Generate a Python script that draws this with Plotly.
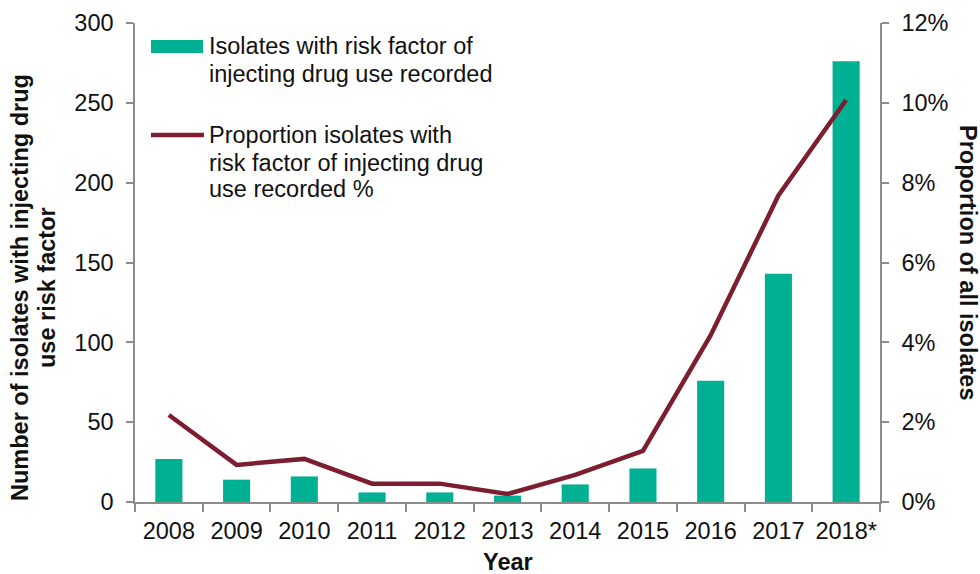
import plotly.graph_objects as go

years = ["2008", "2009", "2010", "2011", "2012", "2013", "2014", "2015", "2016", "2017", "2018*"]
isolates_idu = [27, 14, 16, 6, 6, 4, 11, 21, 76, 143, 276]
proportion_idu = [2.18, 0.93, 1.08, 0.46, 0.46, 0.2, 0.68, 1.28, 4.18, 7.68, 10.07]

left_ticks = [0, 50, 100, 150, 200, 250, 300]
right_ticks = [0, 2, 4, 6, 8, 10, 12]
right_tick_labels = ["0%", "2%", "4%", "6%", "8%", "10%", "12%"]

bar_name = "Isolates with risk factor of injecting drug use recorded"
line_name = "Proportion isolates with risk factor of injecting drug use recorded %"
legend_bar_lines = ["Isolates with risk factor of", "injecting drug use recorded"]
legend_line_lines = ["Proportion isolates with", "risk factor of injecting drug", "use recorded %"]
left_title_lines = ["Number of isolates with injecting drug", "use risk factor"]
right_title = "Proportion of all isolates"
x_title = "Year"

BAR_COLOR = "#00B092"
LINE_COLOR = "#7C1E30"
AXIS_COLOR = "#8C8C8C"
TEXT_COLOR = "#111111"
FONT = "Liberation Sans, Arial, sans-serif"
FS = 23.5

W, H = 980, 574
ML, MR, MT, MB = 135, 100, 23, 72
PW = W - ML - MR
PH = H - MT - MB


def px_x(x):
    return (x - ML) / PW


def px_y(y):
    return (H - MB - y) / PH


fig = go.Figure()
fig.add_trace(go.Bar(x=years, y=isolates_idu, name=bar_name, marker=dict(color=BAR_COLOR, line=dict(width=0)),
                     width=0.4, yaxis="y", showlegend=False))
fig.add_trace(go.Scatter(x=years, y=proportion_idu, name=line_name, mode="lines",
                         line=dict(color=LINE_COLOR, width=4.5), yaxis="y2", showlegend=False))

tickfont = dict(family=FONT, size=FS, color=TEXT_COLOR)
fig.update_layout(
    width=W, height=H,
    margin=dict(l=ML, r=MR, t=MT, b=MB, autoexpand=False),
    paper_bgcolor="white", plot_bgcolor="white",
    font=dict(family=FONT, size=FS, color=TEXT_COLOR),
    xaxis=dict(type="category", showgrid=False, showline=True, linecolor=AXIS_COLOR, linewidth=1.5,
               ticks="outside", tickson="boundaries", ticklen=8, tickcolor=AXIS_COLOR, tickwidth=1.5,
               tickfont=tickfont, ticklabelstandoff=7, tickangle=0, automargin=False, range=[-0.5, 10.5]),
    yaxis=dict(range=[0, 300], tickvals=left_ticks, showgrid=False, zeroline=False,
               showline=True, linecolor=AXIS_COLOR, linewidth=1.5, ticks="outside", ticklen=7,
               tickcolor=AXIS_COLOR, tickwidth=1.5, tickfont=tickfont, ticklabelstandoff=8, automargin=False),
    yaxis2=dict(range=[0, 12], tickvals=right_ticks, ticktext=right_tick_labels, overlaying="y", side="right",
                showgrid=False, zeroline=False, showline=True, linecolor=AXIS_COLOR, linewidth=1.5,
                ticks="outside", ticklen=7, tickcolor=AXIS_COLOR, tickwidth=1.5, tickfont=tickfont,
                ticklabelstandoff=8, automargin=False),
)

ann = []
title_font = dict(family=FONT, size=FS, color=TEXT_COLOR, weight="bold")
legend_font = dict(family=FONT, size=FS, color=TEXT_COLOR)

# left axis title (two lines)
for txt, xc in zip(left_title_lines, [20, 47]):
    ann.append(dict(text="<b>%s</b>" % txt, x=px_x(xc), y=px_y(288), xref="paper", yref="paper",
                    xanchor="center", yanchor="middle", textangle=-90, showarrow=False, font=title_font))
# right axis title
ann.append(dict(text="<b>%s</b>" % right_title, x=px_x(968), y=px_y(263), xref="paper", yref="paper",
                xanchor="center", yanchor="middle", textangle=90, showarrow=False, font=title_font))
# x title
ann.append(dict(text="<b>%s</b>" % x_title, x=px_x(508), y=px_y(562), xref="paper", yref="paper",
                xanchor="center", yanchor="middle", showarrow=False, font=title_font))

# legend text
for txt, yc in zip(legend_bar_lines, [46, 74]):
    ann.append(dict(text=txt, x=px_x(207), y=px_y(yc), xref="paper", yref="paper",
                    xanchor="left", yanchor="middle", showarrow=False, font=legend_font))
for txt, yc in zip(legend_line_lines, [135, 163, 189]):
    ann.append(dict(text=txt, x=px_x(207), y=px_y(yc), xref="paper", yref="paper",
                    xanchor="left", yanchor="middle", showarrow=False, font=legend_font))
fig.update_layout(annotations=ann)

# legend swatches
fig.add_shape(type="rect", xref="paper", yref="paper", x0=px_x(151), x1=px_x(203), y0=px_y(53), y1=px_y(40),
              fillcolor=BAR_COLOR, line=dict(width=0))
fig.add_shape(type="line", xref="paper", yref="paper", x0=px_x(151), x1=px_x(204), y0=px_y(135), y1=px_y(135),
              line=dict(color=LINE_COLOR, width=4.5))

fig.write_html("out.html", config={"displayModeBar": False},
               post_script="document.body.style.margin='0';document.body.style.overflow='hidden';")
